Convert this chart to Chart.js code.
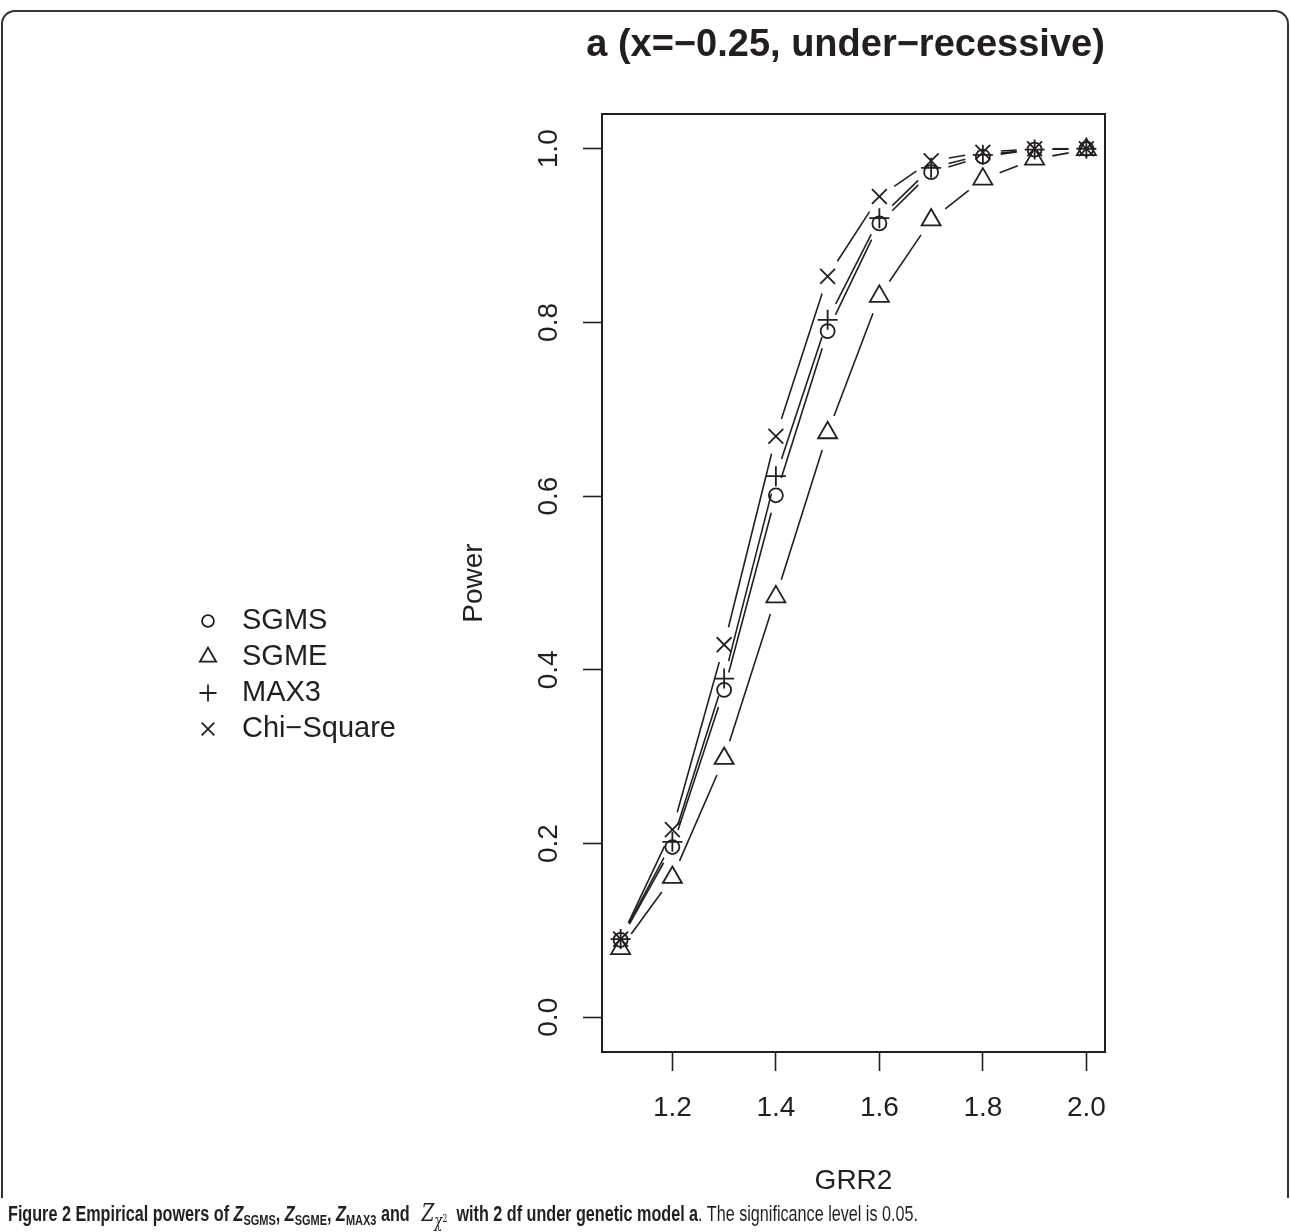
<!DOCTYPE html>
<html>
<head>
<meta charset="utf-8">
<script src="https://cdn.jsdelivr.net/npm/chart.js"></script>
<style>
  body { margin: 0; background: #fff; }
  #wrap { position: relative; width: 1290px; height: 1232px; overflow: hidden; }
  #frame { position: absolute; left: 1px; top: 10px; width: 1284px; height: 1186px;
           border: 2px solid #333; border-bottom: none; border-radius: 14px 14px 0 0; }
  canvas { position: absolute; left: 0; top: 0; }
  #caption { position: absolute; left: 8px; top: 1198px; color: #231f20; white-space: nowrap;
             transform-origin: 0 50%;
             font-family: "Liberation Sans", Arial, sans-serif; font-size: 22px; }
  #caption sub { font-size: 0.68em; vertical-align: -0.3em; line-height: 0; }
  #caption .m { font-family: "DejaVu Serif", "Liberation Serif", serif; font-style: italic; font-weight: normal;
                font-size: 25px; margin: 0 6px 0 10px; }
  #caption .m sub { font-size: 0.72em; vertical-align: -0.35em; }
  #caption .m sup { font-size: 0.62em; vertical-align: 0.45em; line-height: 0; font-style: normal; }
</style>
</head>
<body>
<div id="wrap">
  <div id="frame"></div>
  <canvas id="chart" width="1290" height="1232"></canvas>
  <div id="caption"><b>Figure 2 Empirical powers of <i>Z</i><sub>SGMS</sub>, <i>Z</i><sub>SGME</sub>, <i>Z</i><sub>MAX3</sub> and <span class="m">Z<sub>χ<sup>2</sup></sub></span> with 2 df under genetic model a</b>. The significance level is 0.05.</div>
</div>
<script>
// data
const grr = [1.1, 1.2, 1.3, 1.4, 1.5, 1.6, 1.7, 1.8, 1.9, 2.0];
const sgms  = [0.089, 0.196, 0.377, 0.601, 0.790, 0.914, 0.973, 0.991, 0.999, 1.000];
const sgme  = [0.079, 0.161, 0.298, 0.484, 0.673, 0.830, 0.918, 0.965, 0.988, 0.999];
const max3  = [0.090, 0.202, 0.390, 0.623, 0.803, 0.920, 0.978, 0.993, 0.999, 1.000];
const chisq = [0.090, 0.216, 0.429, 0.669, 0.853, 0.945, 0.986, 0.996, 1.000, 1.000];
const seriesNames = ['SGMS', 'SGME', 'MAX3', 'Chi\u2212Square'];
const xTicks = [1.2, 1.4, 1.6, 1.8, 2.0];
const yTicks = [0.0, 0.2, 0.4, 0.6, 0.8, 1.0];
const titleText = 'a (x=\u22120.25, under\u2212recessive)';

const ink = '#231f20';
const GAP = 18; // gap left around each point (R type="b")
const fontFam = '"Liberation Sans", Arial, Helvetica, sans-serif';

function toPoints(vals) {
  return grr.map(function(x, i) { return {x: x, y: vals[i]}; });
}

// each segment gets its own dash so the line stops short of both points
function gapDash(ctx) {
  let L = Math.hypot(ctx.p1.x - ctx.p0.x, ctx.p1.y - ctx.p0.y);
  if (L <= 2 * GAP) return [0, 100000];
  return [L - 2 * GAP, 2 * GAP + 100000];
}

function makeSet(label, vals, style, radius) {
  return {
    label: label,
    data: toPoints(vals),
    borderColor: ink,
    borderWidth: 1.6,
    borderDashOffset: -GAP,
    pointStyle: style,
    pointRadius: radius,
    pointBorderWidth: 1.8,
    pointBorderColor: ink,
    pointBackgroundColor: 'rgba(0,0,0,0)',
    fill: false,
    tension: 0,
    segment: { borderDash: gapDash, borderDashOffset: -GAP }
  };
}

const datasets = [
  makeSet(seriesNames[0], sgms, 'circle', 7),
  makeSet(seriesNames[1], sgme, 'triangle', 11),
  makeSet(seriesNames[2], max3, 'cross', 10),
  makeSet(seriesNames[3], chisq, 'crossRot', 10.5)
];

// box round the plot + title over the plot region
const boxPlugin = {
  id: 'box',
  afterDraw(chart) {
    const c = chart.ctx, a = chart.chartArea;
    c.save();
    c.strokeStyle = ink;
    c.lineWidth = 2;
    c.strokeRect(a.left, a.top, a.right - a.left, a.bottom - a.top);
    c.fillStyle = ink;
    c.font = 'bold 38px ' + fontFam;
    c.textAlign = 'center';
    c.textBaseline = 'middle';
    c.fillText(titleText, (a.left + a.right) / 2 - 8, 46);
    c.restore();
  }
};

// legend at the left, like legend("left", ...) in R
const legendPlugin = {
  id: 'rlegend',
  afterDraw(chart) {
    const c = chart.ctx;
    c.save();
    chart.data.datasets.forEach(function(ds, i) {
      let y = 621 + i * 36;
      c.strokeStyle = ink;
      c.fillStyle = 'rgba(0,0,0,0)';
      c.lineWidth = 1.8;
      Chart.helpers.drawPoint(c, {pointStyle: ds.pointStyle, radius: ds.pointRadius * 0.85, borderWidth: 1.8, rotation: 0}, 208, y);
      c.fillStyle = ink;
      c.font = '29px ' + fontFam;
      c.textAlign = 'left';
      c.textBaseline = 'middle';
      c.fillText(ds.label, 242, y);
    });
    c.restore();
  }
};

const tickFont = { family: fontFam, size: 28 };

new Chart(document.getElementById('chart').getContext('2d'), {
  type: 'line',
  data: { datasets: datasets },
  options: {
    responsive: false,
    animation: false,
    devicePixelRatio: 1,
    layout: { padding: { top: 114, right: 185, bottom: 0, left: 0 } },
    plugins: {
      legend: { display: false },
      tooltip: { enabled: false }
    },
    scales: {
      x: {
        type: 'linear',
        min: 1.064,
        max: 2.036,
        afterBuildTicks: function(s) { s.ticks = xTicks.map(function(v) { return {value: v}; }); },
        afterFit: function(s) { s.height = 180; },
        grid: { drawOnChartArea: false, drawTicks: true, tickLength: 19, tickWidth: 1.6, tickColor: ink },
        border: { display: true, color: ink, width: 2 },
        ticks: {
          autoSkip: false, maxRotation: 0, minRotation: 0, padding: 20, color: ink, font: tickFont,
          callback: function(v) { return Number(v).toFixed(1); }
        },
        title: { display: true, text: 'GRR2', color: ink, font: tickFont, padding: { top: 0, bottom: 34 } }
      },
      y: {
        type: 'linear',
        min: -0.04,
        max: 1.04,
        afterBuildTicks: function(s) { s.ticks = yTicks.map(function(v) { return {value: v}; }); },
        afterFit: function(s) { s.width = 602; },
        grid: { drawOnChartArea: false, drawTicks: true, tickLength: 19, tickWidth: 1.6, tickColor: ink },
        border: { display: true, color: ink, width: 2 },
        ticks: {
          autoSkip: false, minRotation: 90, maxRotation: 90, crossAlign: 'center', padding: 14,
          color: ink, font: tickFont,
          callback: function(v) { return Number(v).toFixed(1); }
        },
        title: { display: true, text: 'Power', color: ink, font: tickFont, padding: { top: 457, bottom: 0 } }
      }
    }
  },
  plugins: [boxPlugin, legendPlugin]
});

// the caption is set in a condensed face in the source; squeeze to the same width
const cap = document.getElementById('caption');
const capW = cap.getBoundingClientRect().width;
cap.style.transform = 'scaleX(' + (910 / capW) + ')';
</script>
</body>
</html>
